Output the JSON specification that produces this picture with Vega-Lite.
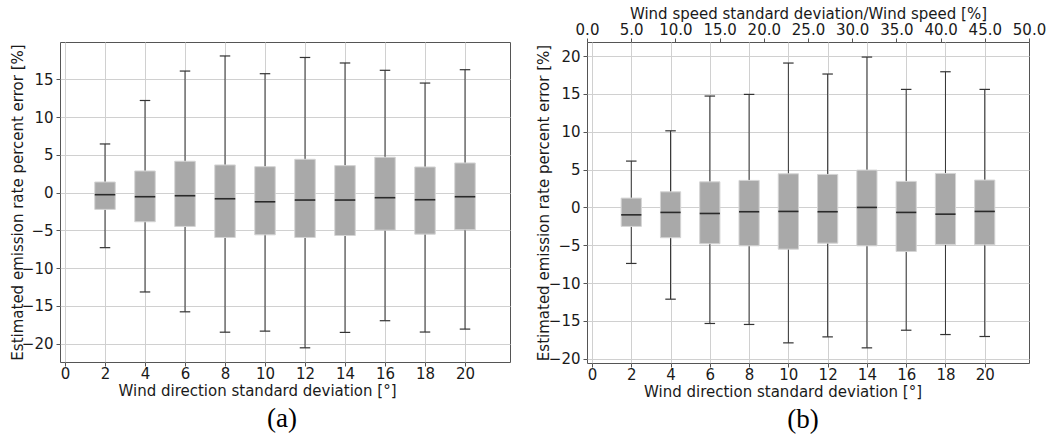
{
  "$schema": "https://vega.github.io/schema/vega-lite/v6.json",
  "background": "white",
  "padding": {"left": 9, "top": 5, "right": 5, "bottom": 5},
  "spacing": 77,
  "bounds": "flush",
  "config": {
    "font": "DejaVu Sans",
    "view": {"stroke": "#555555", "strokeWidth": 1},
    "axis": {
      "labelFont": "DejaVu Sans", "labelFontSize": 15, "labelColor": "#1a1a1a",
      "titleFont": "DejaVu Sans", "titleFontSize": 15, "titleFontWeight": "normal", "titleColor": "#1a1a1a",
      "gridColor": "#d0d0d0", "gridWidth": 1, "domain": false,
      "tickColor": "#555555", "tickSize": 4, "labelPadding": 3,
      "labelFlush": false, "labelOverlap": false
    },
    "axisBottom": {"labelPadding": 0},
    "axisTop": {"labelPadding": 1}
  },
  "datasets": {
    "a": [
      {"sd": 2, "lo": -7.3, "q1": -2.23, "med": -0.28, "q3": 1.4, "hi": 6.44},
      {"sd": 4, "lo": -13.17, "q1": -3.87, "med": -0.55, "q3": 2.86, "hi": 12.2},
      {"sd": 6, "lo": -15.8, "q1": -4.49, "med": -0.42, "q3": 4.15, "hi": 16.1},
      {"sd": 8, "lo": -18.5, "q1": -5.95, "med": -0.82, "q3": 3.66, "hi": 18.1},
      {"sd": 10, "lo": -18.36, "q1": -5.6, "med": -1.22, "q3": 3.43, "hi": 15.75},
      {"sd": 12, "lo": -20.57, "q1": -5.95, "med": -0.99, "q3": 4.41, "hi": 17.9},
      {"sd": 14, "lo": -18.53, "q1": -5.69, "med": -0.99, "q3": 3.57, "hi": 17.17},
      {"sd": 16, "lo": -16.98, "q1": -4.98, "med": -0.68, "q3": 4.68, "hi": 16.2},
      {"sd": 18, "lo": -18.48, "q1": -5.51, "med": -0.95, "q3": 3.39, "hi": 14.51},
      {"sd": 20, "lo": -18.09, "q1": -4.93, "med": -0.55, "q3": 3.92, "hi": 16.28}
    ],
    "b": [
      {"sd": 2, "lo": -7.4, "q1": -2.51, "med": -0.98, "q3": 1.23, "hi": 6.12},
      {"sd": 4, "lo": -12.12, "q1": -4.0, "med": -0.66, "q3": 2.06, "hi": 10.12},
      {"sd": 6, "lo": -15.33, "q1": -4.8, "med": -0.8, "q3": 3.38, "hi": 14.71},
      {"sd": 8, "lo": -15.46, "q1": -5.07, "med": -0.57, "q3": 3.57, "hi": 14.93},
      {"sd": 10, "lo": -17.89, "q1": -5.51, "med": -0.53, "q3": 4.44, "hi": 19.07},
      {"sd": 12, "lo": -17.1, "q1": -4.72, "med": -0.57, "q3": 4.36, "hi": 17.62},
      {"sd": 14, "lo": -18.55, "q1": -5.07, "med": 0.0, "q3": 4.93, "hi": 19.86},
      {"sd": 16, "lo": -16.22, "q1": -5.82, "med": -0.66, "q3": 3.44, "hi": 15.59},
      {"sd": 18, "lo": -16.79, "q1": -4.89, "med": -0.89, "q3": 4.49, "hi": 17.92},
      {"sd": 20, "lo": -17.05, "q1": -4.94, "med": -0.53, "q3": 3.61, "hi": 15.59}
    ]
  },
  "hconcat": [
    {
      "width": 450,
      "height": 320,
      "data": {"name": "a"},
      "title": {"text": "(a)", "orient": "bottom", "font": "Liberation Serif", "fontSize": 27, "fontWeight": "normal", "color": "#000000", "offset": 8, "dx": -3},
      "encoding": {
        "x": {
          "field": "sd", "type": "quantitative",
          "scale": {"domain": [0, 22], "nice": false, "zero": false},
          "axis": {"values": [0, 2, 4, 6, 8, 10, 12, 14, 16, 18, 20], "title": "Wind direction standard deviation [°]", "titleX": 197, "titlePadding": 2}
        }
      },
      "layer": [
        {
          "mark": {"type": "rule", "color": "#333333", "strokeWidth": 1},
          "encoding": {
            "y": {
              "field": "lo", "type": "quantitative",
              "scale": {"domain": [-22.45, 19.95], "nice": false, "zero": false},
              "axis": {"values": [-20, -15, -10, -5, 0, 5, 10, 15], "title": "Estimated emission rate percent error [%]", "titlePadding": -4}
            },
            "y2": {"field": "hi"}
          }
        },
        {
          "mark": {"type": "bar", "width": 20.5, "fill": "#a9a9a9", "stroke": "#d4d4d4", "strokeWidth": 1},
          "encoding": {"y": {"field": "q1", "type": "quantitative"}, "y2": {"field": "q3"}}
        },
        {
          "mark": {"type": "tick", "orient": "horizontal", "size": 20.5, "thickness": 1.6, "color": "#2a2a2a", "opacity": 1},
          "encoding": {"y": {"field": "med", "type": "quantitative"}}
        },
        {
          "mark": {"type": "tick", "orient": "horizontal", "size": 10.5, "thickness": 1.2, "color": "#333333", "opacity": 1},
          "encoding": {"y": {"field": "hi", "type": "quantitative"}}
        },
        {
          "mark": {"type": "tick", "orient": "horizontal", "size": 10.5, "thickness": 1.2, "color": "#333333", "opacity": 1},
          "encoding": {"y": {"field": "lo", "type": "quantitative"}}
        }
      ]
    },
    {
      "width": 442,
      "height": 321,
      "title": {"text": "(b)", "orient": "bottom", "font": "Liberation Serif", "fontSize": 27, "fontWeight": "normal", "color": "#000000", "offset": 8, "dx": -5},
      "layer": [
        {
          "data": {"name": "b"},
          "encoding": {
            "x": {
              "field": "sd", "type": "quantitative",
              "scale": {"domain": [0, 22], "nice": false, "zero": false},
              "axis": {"values": [0, 2, 4, 6, 8, 10, 12, 14, 16, 18, 20], "title": "Wind direction standard deviation [°]", "titleX": 195.5, "titlePadding": 2}
            }
          },
          "layer": [
            {
              "mark": {"type": "rule", "color": "#333333", "strokeWidth": 1},
              "encoding": {
                "y": {
                  "field": "lo", "type": "quantitative",
                  "scale": {"domain": [-20.55, 21.85], "nice": false, "zero": false},
                  "axis": {"values": [-20, -15, -10, -5, 0, 5, 10, 15, 20], "title": "Estimated emission rate percent error [%]", "titlePadding": -3}
                },
                "y2": {"field": "hi"}
              }
            },
            {
              "mark": {"type": "bar", "width": 20.2, "fill": "#a9a9a9", "stroke": "#d4d4d4", "strokeWidth": 1},
              "encoding": {"y": {"field": "q1", "type": "quantitative"}, "y2": {"field": "q3"}}
            },
            {
              "mark": {"type": "tick", "orient": "horizontal", "size": 20.2, "thickness": 1.6, "color": "#2a2a2a", "opacity": 1},
              "encoding": {"y": {"field": "med", "type": "quantitative"}}
            },
            {
              "mark": {"type": "tick", "orient": "horizontal", "size": 10.5, "thickness": 1.2, "color": "#333333", "opacity": 1},
              "encoding": {"y": {"field": "hi", "type": "quantitative"}}
            },
            {
              "mark": {"type": "tick", "orient": "horizontal", "size": 10.5, "thickness": 1.2, "color": "#333333", "opacity": 1},
              "encoding": {"y": {"field": "lo", "type": "quantitative"}}
            }
          ]
        },
        {
          "data": {"values": [{"ws": 0}, {"ws": 50}]},
          "mark": {"type": "point", "opacity": 0},
          "encoding": {
            "x": {
              "field": "ws", "type": "quantitative",
              "scale": {"domain": [0, 50], "nice": false, "zero": false},
              "axis": {"orient": "top", "values": [0, 5, 10, 15, 20, 25, 30, 35, 40, 45, 50], "format": ".1f", "grid": false, "title": "Wind speed standard deviation/Wind speed [%]", "titlePadding": 1}
            }
          }
        }
      ],
      "resolve": {"scale": {"x": "independent"}, "axis": {"x": "independent"}}
    }
  ]
}
